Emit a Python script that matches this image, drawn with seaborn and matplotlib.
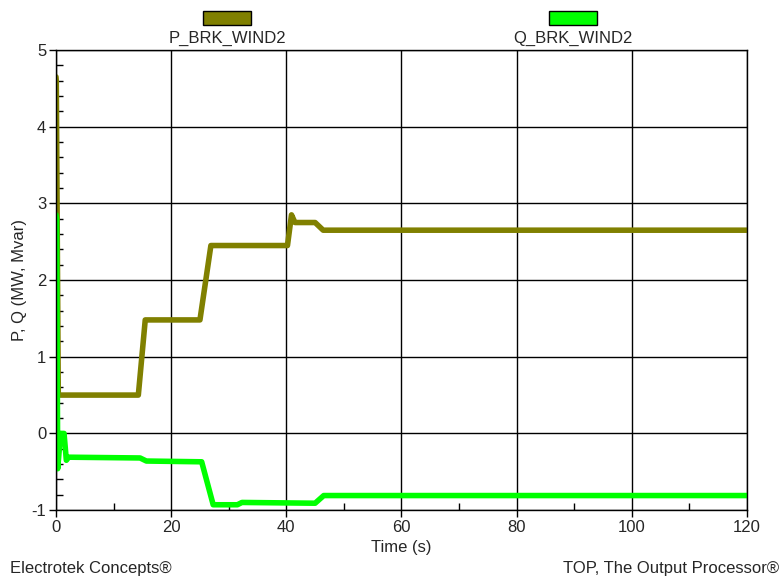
import numpy as np
import pandas as pd
import matplotlib
matplotlib.use("Agg")
import matplotlib.pyplot as plt
from matplotlib.patches import Rectangle
from matplotlib.ticker import MultipleLocator
import seaborn as sns

# P_BRK_WIND2 (MW)
p_time = [0.0, 0.05, 0.4, 14.3, 15.5, 25.0, 26.9, 40.2, 40.9, 41.5, 45.0, 46.4, 120.0]
p_vals = [4.65, 4.6, 0.5, 0.5, 1.48, 1.48, 2.45, 2.45, 2.85, 2.75, 2.75, 2.65, 2.65]

# Q_BRK_WIND2 (Mvar)
q_time = [0.0, 0.1, 0.3, 0.8, 1.4, 1.8, 2.2, 14.6, 15.7, 25.3, 27.3, 31.5, 32.3, 45.0, 46.5, 120.0]
q_vals = [2.85, 2.8, -0.46, 0.0, 0.0, -0.35, -0.31, -0.32, -0.36, -0.37, -0.93, -0.93, -0.90, -0.91, -0.81, -0.81]

series_names = ["P_BRK_WIND2", "Q_BRK_WIND2"]
series_colors = ["#808000", "#00ff00"]

df = pd.concat([
    pd.DataFrame({"t": p_time, "v": p_vals, "series": series_names[0]}),
    pd.DataFrame({"t": q_time, "v": q_vals, "series": series_names[1]}),
])

sns.set_style("white")
plt.rcParams["font.family"] = ["Liberation Sans", "DejaVu Sans"]
plt.rcParams["axes.unicode_minus"] = False

fig = plt.figure(figsize=(7.83, 5.81), dpi=100)
ax = fig.add_axes([0.0715, 0.122, 0.8825, 0.792])

sns.lineplot(data=df, x="t", y="v", hue="series", hue_order=series_names,
             palette=series_colors, linewidth=4.0, sort=False, estimator=None,
             legend=False, ax=ax)

ax.set_xlim(0, 120)
ax.set_ylim(-1, 5)
ax.xaxis.set_major_locator(MultipleLocator(20))
ax.xaxis.set_minor_locator(MultipleLocator(10))
ax.yaxis.set_major_locator(MultipleLocator(1))
ax.yaxis.set_minor_locator(MultipleLocator(0.2))
ax.grid(True, which="major", color="black", linewidth=1.0)
ax.set_axisbelow(True)
for s in ax.spines.values():
    s.set_color("black")
    s.set_linewidth(1.0)
ax.tick_params(which="major", direction="out", length=5, width=1,
               labelsize=12, color="black", pad=2)
ax.tick_params(which="minor", direction="in", length=5, width=1, color="black")
ax.tick_params(axis="x", which="both", bottom=True, top=False)
ax.tick_params(axis="y", which="both", left=True, right=False)

ax.set_xlabel("Time (s)", fontsize=12, labelpad=4)
ax.set_ylabel("P, Q (MW, Mvar)", fontsize=12, labelpad=3)

# legend swatches above the plot
for name, col, xc in zip(series_names, series_colors, [227 / 783, 573 / 783]):
    fig.add_artist(Rectangle((xc - 24 / 783, 1 - 25 / 581), 48 / 783, 14 / 581,
                             transform=fig.transFigure, facecolor=col,
                             edgecolor="black", linewidth=1))
    fig.text(xc, 1 - 38 / 581, name, ha="center", va="center", fontsize=12)

fig.text(10 / 783, 1 - 568 / 581, "Electrotek Concepts®", ha="left", va="center", fontsize=12)
fig.text(779 / 783, 1 - 568 / 581, "TOP, The Output Processor®", ha="right", va="center", fontsize=12)

fig.savefig("out.png", dpi=100)
